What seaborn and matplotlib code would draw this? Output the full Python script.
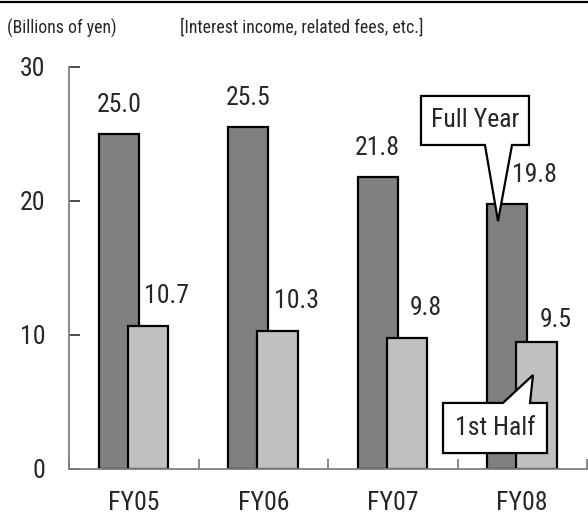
import matplotlib
matplotlib.use("Agg")
import matplotlib.pyplot as plt
import seaborn as sns
import numpy as np
import pandas as pd
from matplotlib.patches import Polygon
from matplotlib import font_manager

categories = ["FY05", "FY06", "FY07", "FY08"]
full_year = [25.0, 25.5, 21.8, 19.8]
first_half = [10.7, 10.3, 9.8, 9.5]
y_ticks = [0, 10, 20, 30]
unit_label = "(Billions of yen)"
subtitle = "[Interest income, related fees, etc.]"

sns.set_theme(style="white")
names = {f.name for f in font_manager.fontManager.ttflist}
narrow = [n for n in ["Liberation Sans Narrow", "Arial Narrow", "Roboto Condensed",
                      "Nimbus Sans Narrow", "Open Sans Condensed"] if n in names]
if narrow:
    fam = narrow[0]
    FS, HFS = 18.5, 12.8
else:
    fam = "Liberation Sans"
    FS, HFS = 16, 12
plt.rcParams["font.family"] = [fam, "DejaVu Sans"]

DARK = "#808080"
LIGHT = "#c0c0c0"
AXC = "#808080"

fig = plt.figure(figsize=(5.88, 5.18), dpi=100)
ax = fig.add_axes([69 / 588, 49 / 518, 518 / 588, 402 / 518])

idx = np.arange(len(categories))
off_full, off_half, bw = -0.116, 0.11, 0.31
df_full = pd.DataFrame({"x": idx + off_full, "y": full_year})
df_half = pd.DataFrame({"x": idx + off_half, "y": first_half})

sns.barplot(data=df_full, x="x", y="y", native_scale=True, width=bw,
            color=DARK, saturation=1, edgecolor="black", linewidth=1.6, ax=ax)
sns.barplot(data=df_half, x="x", y="y", native_scale=True, width=bw,
            color=LIGHT, saturation=1, edgecolor="black", linewidth=1.6, ax=ax)

ax.set_xlim(-0.5, len(categories) - 0.5)
ax.set_ylim(0, 30)
ax.set_xlabel("")
ax.set_ylabel("")

for s in ["top", "right"]:
    ax.spines[s].set_visible(False)
for s in ["left", "bottom"]:
    ax.spines[s].set_color(AXC)
    ax.spines[s].set_linewidth(1.3)

ax.set_yticks(y_ticks)
ax.set_yticklabels([str(t) for t in y_ticks], fontsize=FS)
ax.tick_params(axis="y", direction="in", length=8, width=1.3, color="#404040",
               pad=17, left=True)
ax.set_xticks(idx)
ax.set_xticklabels(categories, fontsize=FS)
ax.tick_params(axis="x", which="major", length=0, pad=16)
ax.set_xticks(np.arange(-0.5, len(categories), 1.0), minor=True)
ax.tick_params(axis="x", which="minor", direction="in", length=7, width=1.3,
               color=AXC, bottom=True)

for i, v in enumerate(full_year):
    dx = 0.21 if i == 3 else 0.0
    ax.text(i + off_full + dx, v + 2.15, f"{v:.1f}", ha="center", va="center", fontsize=FS)
for i, v in enumerate(first_half):
    dy = 1.6 if i == 3 else 2.2
    ax.text(i + off_half + 0.145, v + dy, f"{v:.1f}", ha="center", va="center", fontsize=FS)

def callout(x0, x1, ybot, ytop, pb0, pb1, tip, text, pointer_at_bottom=True):
    if pointer_at_bottom:
        pts = [(x0, ytop), (x1, ytop), (x1, ybot), (pb1, ybot), tip, (pb0, ybot), (x0, ybot)]
    else:
        pts = [(x0, ytop), (pb0, ytop), tip, (pb1, ytop), (x1, ytop), (x1, ybot), (x0, ybot)]
    poly = Polygon(pts, closed=True, facecolor="white", edgecolor="black",
                   linewidth=1.6, zorder=5, joinstyle="miter")
    ax.add_patch(poly)
    ax.text((x0 + x1) / 2, (ybot + ytop) / 2, text, ha="center", va="center",
            fontsize=FS, zorder=6)

callout(2.218, 3.052, 24.18, 27.84, 2.712, 2.921, (2.813, 18.5), "Full Year", True)
callout(2.388, 3.191, 1.19, 4.93, 2.851, 3.06, (3.083, 7.01), "1st Half", False)

fig.text(7 / 588, 1 - 28 / 518, unit_label, ha="left", va="center", fontsize=HFS)
fig.text(180 / 588, 1 - 28 / 518, subtitle, ha="left", va="center", fontsize=HFS)
fig.add_artist(plt.Line2D([0, 1], [1 - 1.5 / 518, 1 - 1.5 / 518], color="black",
                          linewidth=1.6, transform=fig.transFigure))

fig.savefig("out.png", dpi=100)
